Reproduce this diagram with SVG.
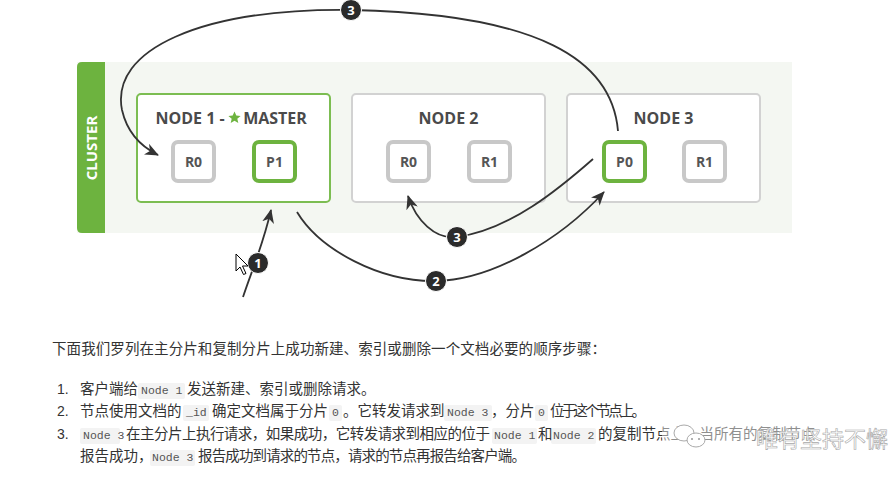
<svg xmlns="http://www.w3.org/2000/svg" width="895" height="478" viewBox="0 0 895 478">
<style>
.node{fill:#fff;stroke:#d2d2d2;stroke-width:2}
.master{stroke:#7cbd52}
.title{font-family:"Open Sans","DejaVu Sans",sans-serif;font-weight:700;font-size:16px;fill:#4a4a4a;text-anchor:middle}
.shard{fill:#fff;stroke:#c8c8c8;stroke-width:4}
.primary{stroke:#6db33f}
.slabel{font-family:"Open Sans","DejaVu Sans",sans-serif;font-weight:700;font-size:14px;fill:#555;text-anchor:middle}
.conn{fill:none;stroke:#333;stroke-width:1.8}
.badge{fill:#2b2b2b;stroke:#fff;stroke-width:1}
.bnum{font-family:"Open Sans","DejaVu Sans",sans-serif;font-weight:700;font-size:13px;fill:#fff;text-anchor:middle}
.cn{font-family:"Noto Sans CJK SC",sans-serif;font-size:14.5px;fill:#333}
.num{font-family:"Liberation Sans",sans-serif;font-size:14px;fill:#333}
.code{font-family:"Liberation Mono",monospace;font-size:11.5px;fill:#555}
.cbg{fill:#f3f3f3}
</style>
<defs>
<marker id="ah" markerUnits="userSpaceOnUse" markerWidth="14" markerHeight="12" refX="13" refY="6" orient="auto">
<path d="M0,0 L14,6 L0,12 L4,6 z" fill="#333"/>
</marker>
</defs>
<rect x="77" y="62" width="715" height="171" fill="#f4f7f2"/>
<g id="cluster">
<path d="M82,62 H105 V233 H82 Q77,233 77,228 V67 Q77,62 82,62 z" fill="#6db33f"/>
<text transform="translate(96.5,148) rotate(-90)" font-family="Open Sans, DejaVu Sans, sans-serif" font-weight="700" font-size="15" fill="#fff" text-anchor="middle">CLUSTER</text>
</g>
<g id="node1">
<rect class="node master" x="137" y="94" width="193" height="108" rx="4"/>
<text class="title" x="190" y="123.5">NODE 1 -</text>
<polygon points="234.5,111.5 236.3,115.6 240.6,115.9 237.3,118.8 238.3,123.1 234.5,120.8 230.7,123.1 231.7,118.8 228.4,115.9 232.7,115.6" fill="#6db33f"/>
<text class="title" x="275" y="123.5">MASTER</text>
</g>
<g id="n1r0"><rect class="shard" x="173" y="142" width="41" height="39" rx="5"/><text class="slabel" x="193.5" y="166.5">R0</text></g>
<g id="n1p1"><rect class="shard primary" x="254" y="142" width="41" height="39" rx="5"/><text class="slabel" x="274.5" y="166.5">P1</text></g>
<g id="node2">
<rect class="node" x="352" y="94" width="193" height="108" rx="4"/>
<text class="title" x="448.5" y="123.5">NODE 2</text>
</g>
<g id="n2r0"><rect class="shard" x="388" y="142" width="41" height="39" rx="5"/><text class="slabel" x="408.5" y="166.5">R0</text></g>
<g id="n2r1"><rect class="shard" x="469" y="142" width="41" height="39" rx="5"/><text class="slabel" x="489.5" y="166.5">R1</text></g>
<g id="node3">
<rect class="node" x="567" y="94" width="193" height="108" rx="4"/>
<text class="title" x="663.5" y="123.5">NODE 3</text>
</g>
<g id="n3p0"><rect class="shard primary" x="604" y="142" width="41" height="39" rx="5"/><text class="slabel" x="624.5" y="166.5">P0</text></g>
<g id="n3r1"><rect class="shard" x="684" y="142" width="41" height="39" rx="5"/><text class="slabel" x="704.5" y="166.5">R1</text></g>
<g id="connectors">
<path class="conn" marker-end="url(#ah)" d="M243,297 C252,270 263,245 271,210"/>
<path class="conn" marker-end="url(#ah)" d="M297,212 C320,250 380,282 436,281 C492,280 560,240 604,192"/>
<path class="conn" marker-end="url(#ah)" d="M593,159 C560,188 510,230 457,237 C435,240 416,220 408,196"/>
<path class="conn" marker-end="url(#ah)" d="M618,131 C612,60 540,14 352,10 C200,8 110,50 122,110 C127,132 140,146 158,155"/>
<circle class="badge" cx="258" cy="263" r="10.5"/><text class="bnum" x="258" y="267.7">1</text>
<circle class="badge" cx="436" cy="281" r="10.5"/><text class="bnum" x="436" y="285.7">2</text>
<circle class="badge" cx="457" cy="237" r="10.5"/><text class="bnum" x="457" y="241.7">3</text>
<circle class="badge" cx="351" cy="10" r="10.5"/><text class="bnum" x="351" y="14.7">3</text>
</g>
<polygon points="236,254 236,271 240,267 243.5,274.5 246,273.5 242.5,266 248,266" fill="#fff" stroke="#000" stroke-width="1"/>
<g id="text">
<text class="cn" x="52" y="354" textLength="554" lengthAdjust="spacing">下面我们罗列在主分片和复制分片上成功新建、索引或删除一个文档必要的顺序步骤：</text>
<text class="num" x="57" y="394">1.</text>
<text class="num" x="57" y="416">2.</text>
<text class="num" x="57" y="439">3.</text>
<rect class="cbg" x="138" y="383" width="47" height="16" rx="2"/>
<rect class="cbg" x="183" y="405" width="26" height="16" rx="2"/>
<rect class="cbg" x="329" y="405" width="13" height="16" rx="2"/>
<rect class="cbg" x="444" y="405" width="48" height="16" rx="2"/>
<rect class="cbg" x="535" y="405" width="13" height="16" rx="2"/>
<rect class="cbg" x="80" y="428" width="40" height="16" rx="2"/>
<rect class="cbg" x="492" y="428" width="45" height="16" rx="2"/>
<rect class="cbg" x="551" y="428" width="45" height="16" rx="2"/>
<rect class="cbg" x="150" y="450" width="45" height="16" rx="2"/>
<text class="cn" y="394"><tspan x="80">客户端给</tspan><tspan class="code" x="141">Node 1</tspan><tspan x="187">发送新建、索引或删除请求。</tspan></text>
<text class="cn" y="416"><tspan x="80">节点使用文档的</tspan><tspan class="code" x="186">_id</tspan><tspan x="212">确定文档属于分片</tspan><tspan class="code" x="332">0</tspan><tspan x="343">。它转发请求到</tspan><tspan class="code" x="447">Node 3</tspan><tspan x="491">，分片</tspan><tspan class="code" x="538">0</tspan><tspan x="550" textLength="96" lengthAdjust="spacing">位于这个节点上。</tspan></text>
<text class="cn" y="439"><tspan class="code" x="83">Node 3</tspan><tspan x="126" textLength="364" lengthAdjust="spacing">在主分片上执行请求，如果成功，它转发请求到相应的位于</tspan><tspan class="code" x="494">Node 1</tspan><tspan x="538">和</tspan><tspan class="code" x="553">Node 2</tspan><tspan x="598">的复制节点上。当所有的复制节点</tspan></text>
<text class="cn" y="461"><tspan x="80">报告成功，</tspan><tspan class="code" x="152">Node 3</tspan><tspan x="198" textLength="328" lengthAdjust="spacing">报告成功到请求的节点，请求的节点再报告给客户端。</tspan></text>
</g>
<g id="watermark">
<rect x="662" y="420" width="222" height="34" fill="#fff" opacity="0.45"/>
<ellipse cx="684" cy="433" rx="10" ry="8" fill="#fff" stroke="#aaa" stroke-width="1"/>
<ellipse cx="696" cy="440" rx="9" ry="7" fill="#fff" stroke="#aaa" stroke-width="1"/>
<circle cx="692" cy="439" r="1" fill="#999"/><circle cx="699" cy="439" r="1" fill="#999"/>
<text x="756" y="447" font-family="Noto Sans CJK SC, sans-serif" font-size="22" fill="#fff" fill-opacity="0.85" stroke="#a8a8a8" stroke-width="0.6">唯有坚持不懈</text>
</g>
</svg>
